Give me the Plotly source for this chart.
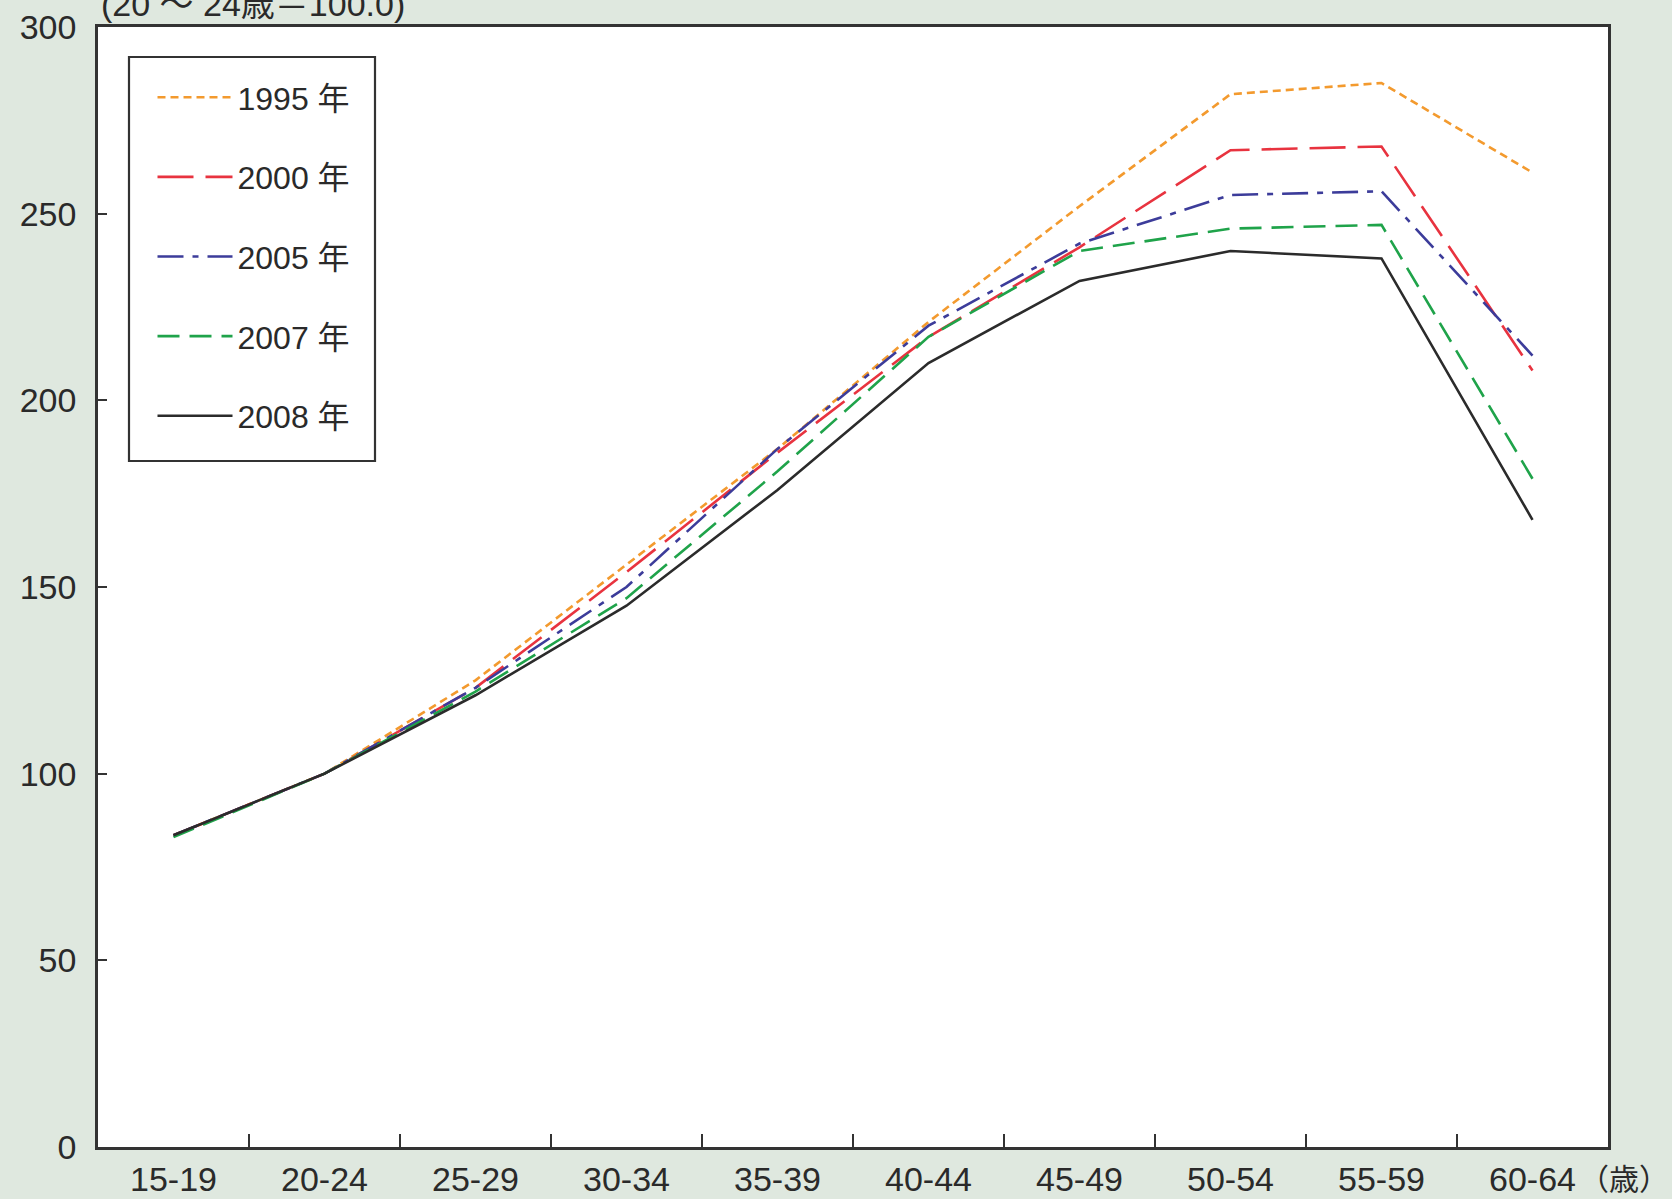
import plotly.graph_objects as go

categories = ["15-19", "20-24", "25-29", "30-34", "35-39", "40-44", "45-49", "50-54", "55-59", "60-64"]
years = ["1995 年", "2000 年", "2005 年", "2007 年", "2008 年"]
v1995 = [83.5, 100, 125, 156, 187, 221, 252, 282, 285, 261]
v2000 = [83.5, 100, 123, 154, 186, 217, 241, 267, 268, 208]
v2005 = [83.5, 100, 123, 150, 187, 220, 242, 255, 256, 212]
v2007 = [83.0, 100, 122, 147, 181, 217, 240, 246, 247, 179]
v2008 = [83.5, 100, 121, 145, 176, 210, 232, 240, 238, 168]
y_ticks = [0, 50, 100, 150, 200, 250, 300]
y_title = "(20 ～ 24歳＝100.0)"
x_unit = "（歳）"

series = [v1995, v2000, v2005, v2007, v2008]
colors = ["#F39A2E", "#E8333F", "#3C3C9A", "#1FA34A", "#2B2B2B"]
dashes = ["8px,5px", "36px,12px", "26px,9px,6px,9px", "22px,10px", "solid"]

FONT = "Liberation Sans, Arial, 'Noto Sans CJK JP', sans-serif"
TXT = "#2a2a2a"

# plot area in pixels
L, R, T, B = 98, 64, 27, 52
W, H = 1672, 1199
PW, PH = W - L - R, H - T - B


def px_x(x):
    return (x - L) / PW


def px_y(y):
    return (H - B - y) / PH


fig = go.Figure()
for i, (name, vals) in enumerate(zip(years, series)):
    fig.add_trace(go.Scatter(
        x=categories, y=vals, mode="lines", name=name,
        legendgroup=f"g{i}",
        line=dict(color=colors[i], width=2.6, dash=dashes[i]),
        hoverinfo="skip",
    ))

fig.update_layout(
    width=W, height=H,
    margin=dict(l=L, r=R, t=T, b=B, autoexpand=False),
    paper_bgcolor="#DFE8DF",
    plot_bgcolor="#FFFFFF",
    font=dict(family=FONT, size=32, color=TXT),
    showlegend=True,
    legend=dict(
        x=px_x(152.5), y=px_y(70), xanchor="left", yanchor="top",
        bgcolor="rgba(0,0,0,0)", borderwidth=0,
        font=dict(family=FONT, size=32, color=TXT),
        traceorder="grouped", tracegroupgap=35,
        itemwidth=75,
    ),
    xaxis=dict(
        type="category",
        range=[-0.5, 9.5],
        tickson="boundaries",
        ticks="inside", ticklen=13, tickwidth=1.5, tickcolor="#333333",
        showline=True, linecolor="#333333", linewidth=2.5, mirror=True,
        showgrid=False, zeroline=False, automargin=False,
        tickfont=dict(family=FONT, size=34, color=TXT),
        ticklabelstandoff=0,
    ),
    yaxis=dict(
        range=[0, 300],
        tickvals=y_ticks,
        ticks="inside", ticklen=9, tickwidth=1.5, tickcolor="#333333",
        showline=True, linecolor="#333333", linewidth=2.5, mirror=True,
        showgrid=False, zeroline=False, automargin=False,
        tickfont=dict(family=FONT, size=34, color=TXT),
        ticklabelstandoff=12,
    ),
    shapes=[
        dict(type="rect", xref="paper", yref="paper",
             x0=px_x(129), x1=px_x(375), y0=px_y(461), y1=px_y(57),
             line=dict(color="#333333", width=2.2), fillcolor="#FFFFFF",
             layer="below"),
    ],
    annotations=[
        dict(text=y_title, xref="paper", yref="paper", x=px_x(99), y=px_y(4),
             xanchor="left", yanchor="middle", showarrow=False,
             font=dict(family=FONT, size=34, color=TXT)),
        dict(text=x_unit, xref="paper", yref="paper", x=px_x(1671), y=px_y(1179),
             xanchor="right", yanchor="middle", showarrow=False,
             font=dict(family=FONT, size=30, color=TXT)),
    ],
)

fig.write_html("out.html", config={"displayModeBar": False},
               post_script="document.body.style.margin='0';")
